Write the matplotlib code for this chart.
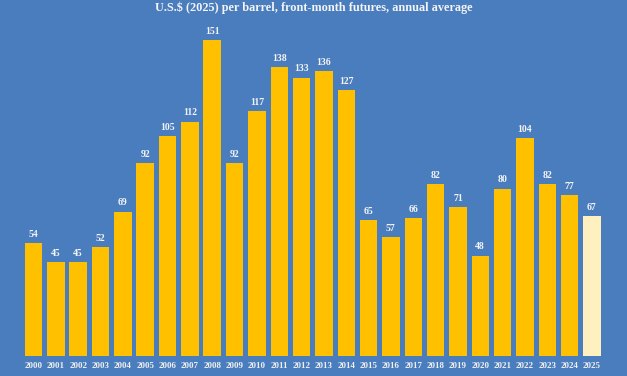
import matplotlib.pyplot as plt

years = [str(y) for y in range(2000, 2026)]
prices = [54, 45, 45, 52, 69, 92, 105, 112, 151, 92, 117, 138, 133, 136, 127,
          65, 57, 66, 82, 71, 48, 80, 104, 82, 77, 67]
title = "U.S.$ (2025) per barrel, front-month futures, annual average"

bg = "#4a7dbe"
gold = "#ffc000"
pale = "#fff0c0"
font = "Liberation Serif"

fig = plt.figure(figsize=(6.27, 3.76), dpi=100, facecolor=bg)
ax = fig.add_axes([0, 20 / 376, 1, 356 / 376])
ax.set_facecolor(bg)

x = list(range(len(years)))
colors = [gold] * (len(years) - 1) + [pale]
bars = ax.bar(x, prices, width=0.78, color=colors)

for xi, v in zip(x, prices):
    ax.annotate(str(v), (xi, v), xytext=(0, 3), textcoords="offset points",
                ha="center", va="bottom", fontsize=7, fontweight="bold",
                color="#f4f4f4", family=font)

ax.set_xlim(-1.5, 26.57)
ax.set_ylim(0, 170.1)
ax.set_xticks(x)
ax.set_xticklabels(years, fontsize=6.5, fontweight="bold", color="#f0f0f0",
                   family=font)
ax.tick_params(axis="x", length=0, pad=4)
ax.set_yticks([])
for s in ax.spines.values():
    s.set_visible(False)

fig.text(0.5, 1 - 1 / 376, title, ha="center", va="top", fontsize=8.8,
         fontweight="bold", color="#f4f4f4", family=font)

fig.savefig("out.png", dpi=100, facecolor=bg)
